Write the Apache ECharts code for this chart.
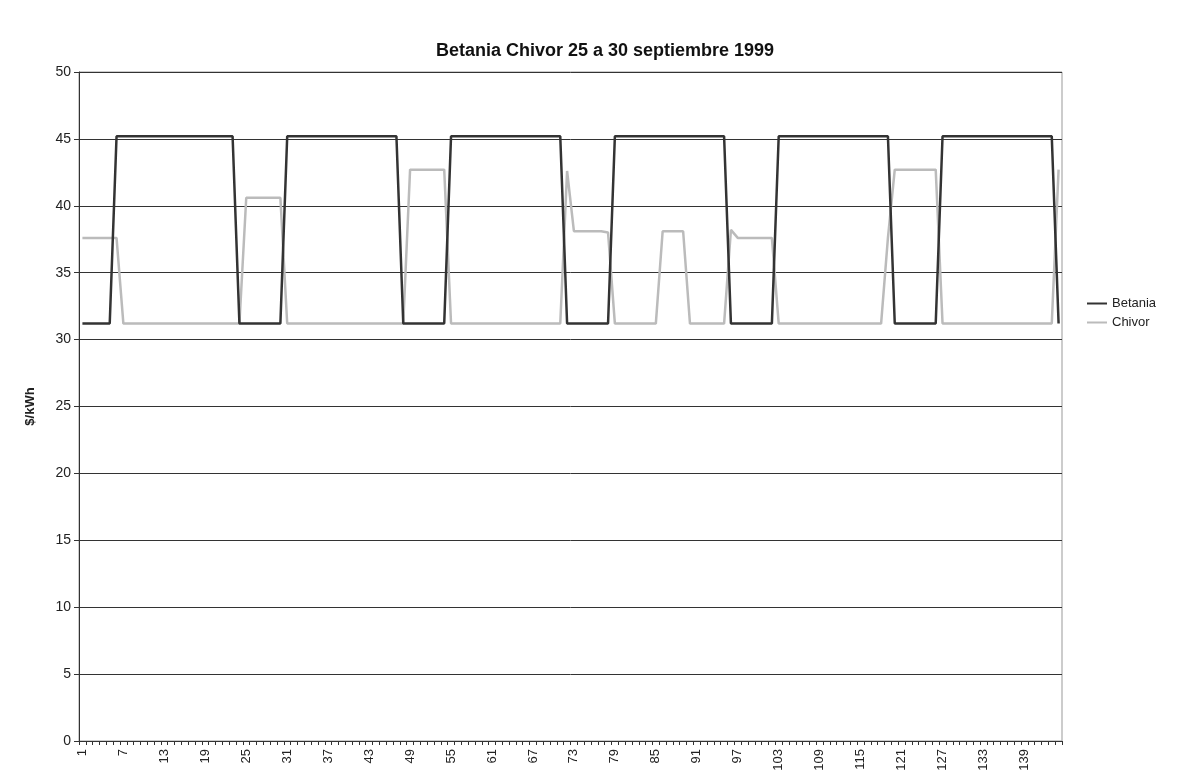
<!DOCTYPE html>
<html><head><meta charset="utf-8">
<script src="https://cdn.jsdelivr.net/npm/echarts@6/dist/echarts.min.js"></script>
<style>html,body{margin:0;padding:0;background:#fff}#c{width:1200px;height:784px}</style>
</head><body><div id="c"></div>
<script>
var categories = [];
for (var i = 1; i <= 144; i++) categories.push(String(i));
var betania = [31.2,31.2,31.2,31.2,31.2,
45.2,45.2,45.2,45.2,45.2,45.2,45.2,45.2,45.2,45.2,45.2,45.2,45.2,45.2,45.2,45.2,45.2,45.2,
31.2,31.2,31.2,31.2,31.2,31.2,31.2,
45.2,45.2,45.2,45.2,45.2,45.2,45.2,45.2,45.2,45.2,45.2,45.2,45.2,45.2,45.2,45.2,45.2,
31.2,31.2,31.2,31.2,31.2,31.2,31.2,
45.2,45.2,45.2,45.2,45.2,45.2,45.2,45.2,45.2,45.2,45.2,45.2,45.2,45.2,45.2,45.2,45.2,
31.2,31.2,31.2,31.2,31.2,31.2,31.2,
45.2,45.2,45.2,45.2,45.2,45.2,45.2,45.2,45.2,45.2,45.2,45.2,45.2,45.2,45.2,45.2,45.2,
31.2,31.2,31.2,31.2,31.2,31.2,31.2,
45.2,45.2,45.2,45.2,45.2,45.2,45.2,45.2,45.2,45.2,45.2,45.2,45.2,45.2,45.2,45.2,45.2,
31.2,31.2,31.2,31.2,31.2,31.2,31.2,
45.2,45.2,45.2,45.2,45.2,45.2,45.2,45.2,45.2,45.2,45.2,45.2,45.2,45.2,45.2,45.2,45.2,
31.2];
var chivor = [37.6,37.6,37.6,37.6,37.6,37.6,
31.2,31.2,31.2,31.2,31.2,31.2,31.2,31.2,31.2,31.2,31.2,31.2,31.2,31.2,31.2,31.2,31.2,31.2,
40.6,40.6,40.6,40.6,40.6,40.6,
31.2,31.2,31.2,31.2,31.2,31.2,31.2,31.2,31.2,31.2,31.2,31.2,31.2,31.2,31.2,31.2,31.2,31.2,
42.7,42.7,42.7,42.7,42.7,42.7,
31.2,31.2,31.2,31.2,31.2,31.2,31.2,31.2,31.2,31.2,31.2,31.2,31.2,31.2,31.2,31.2,31.2,
42.6,
38.1,38.1,38.1,38.1,38.1,38.0,
31.2,31.2,31.2,31.2,31.2,31.2,31.2,
38.1,38.1,38.1,38.1,
31.2,31.2,31.2,31.2,31.2,31.2,
38.2,
37.6,37.6,37.6,37.6,37.6,37.6,
31.2,31.2,31.2,31.2,31.2,31.2,31.2,31.2,31.2,31.2,31.2,31.2,31.2,31.2,31.2,31.2,
37.6,
42.7,42.7,42.7,42.7,42.7,42.7,42.7,
31.2,31.2,31.2,31.2,31.2,31.2,31.2,31.2,31.2,31.2,31.2,31.2,31.2,31.2,31.2,31.2,31.2,
42.7];
var chart = echarts.init(document.getElementById('c'));
chart.setOption({
  animation:false,
  textStyle:{fontFamily:'Liberation Sans, Arial, sans-serif'},
  title:{text:'Betania Chivor 25 a 30 septiembre 1999',left:600,textAlign:'center',top:37,
    textStyle:{fontSize:18,fontWeight:'bold',color:'#111'}},
  legend:{orient:'vertical',left:1082,top:292,itemWidth:20,itemHeight:2,itemGap:6,icon:'rect',
    textStyle:{fontSize:13,color:'#222'},data:['Betania','Chivor']},
  grid:{left:79,right:138,top:72,bottom:43,show:true,borderColor:'#999',borderWidth:1},
  xAxis:{type:'category',data:categories,boundaryGap:true,
    axisLine:{lineStyle:{color:'#333'}},
    axisTick:{show:true,interval:0,length:4,lineStyle:{color:'#333'}},
    axisLabel:{interval:5,rotate:90,fontSize:13,color:'#222',margin:8},
    splitLine:{show:false}},
  yAxis:{type:'value',min:0,max:50,interval:5,name:'$/kWh',nameLocation:'middle',nameGap:42,
    nameTextStyle:{fontSize:13,fontWeight:'bold',color:'#222'},
    axisLine:{show:true,lineStyle:{color:'#333'}},
    axisTick:{show:true,length:5,lineStyle:{color:'#333'}},
    axisLabel:{fontSize:14,color:'#222'},
    splitLine:{lineStyle:{color:'#333',width:1}}},
  series:[
    {name:'Betania',type:'line',data:betania,symbol:'none',lineStyle:{color:'#333',width:2.5},itemStyle:{color:'#333'},z:3},
    {name:'Chivor',type:'line',data:chivor,symbol:'none',lineStyle:{color:'#bbb',width:2.5},itemStyle:{color:'#bbb'},z:2}
  ]
});
</script></body></html>
